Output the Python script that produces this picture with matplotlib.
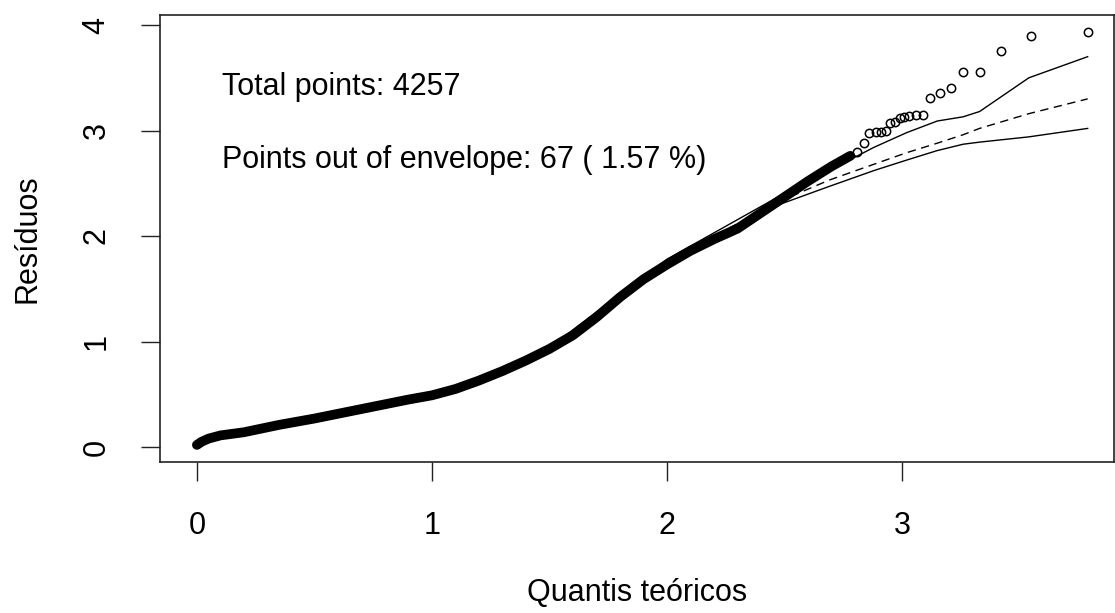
import numpy as np
import matplotlib
matplotlib.use("Agg")
import matplotlib.pyplot as plt

plt.rcParams["font.family"] = ["Liberation Sans", "DejaVu Sans"]

# dense part of the residuals (read along the band of points)
band_x = [0, 0.02, 0.05, 0.1, 0.2, 0.35, 0.5, 0.7, 0.9, 1.0, 1.1, 1.2, 1.3,
          1.4, 1.5, 1.6, 1.7, 1.8, 1.9, 2.0, 2.1, 2.2, 2.3, 2.4, 2.5, 2.6,
          2.7, 2.78]
band_y = [0.02, 0.05, 0.08, 0.11, 0.14, 0.21, 0.27, 0.36, 0.45, 0.49, 0.55,
          0.63, 0.72, 0.82, 0.93, 1.06, 1.23, 1.42, 1.59, 1.73, 1.86, 1.97,
          2.07, 2.22, 2.37, 2.52, 2.66, 2.76]

# individual points in the upper tail
tail_x = [2.81, 2.84, 2.86, 2.89, 2.91, 2.93, 2.95, 2.97, 2.99, 3.01, 3.03,
          3.06, 3.09, 3.12, 3.16, 3.21, 3.26, 3.33, 3.42, 3.55, 3.79]
tail_y = [2.80, 2.88, 2.98, 2.99, 2.99, 3.00, 3.07, 3.08, 3.12, 3.13, 3.14,
          3.15, 3.15, 3.31, 3.36, 3.40, 3.55, 3.55, 3.75, 3.90, 3.93]

# simulated envelope
env_x = [0, 0.5, 1.0, 1.25, 1.5, 1.8, 2.0, 2.2, 2.48, 2.69, 2.88, 3.02, 3.15,
         3.26, 3.33, 3.54, 3.79]
env_upper = [0.04, 0.28, 0.50, 0.68, 0.94, 1.45, 1.78, 2.03, 2.38, 2.62,
             2.84, 2.98, 3.09, 3.13, 3.18, 3.50, 3.70]
env_mean = [0.04, 0.27, 0.49, 0.67, 0.93, 1.42, 1.75, 2.00, 2.33, 2.53, 2.68,
            2.79, 2.88, 2.96, 3.02, 3.16, 3.30]
env_lower = [0.03, 0.26, 0.48, 0.66, 0.92, 1.40, 1.71, 1.95, 2.30, 2.47,
             2.62, 2.72, 2.81, 2.87, 2.89, 2.94, 3.02]

n_total = 4257
n_out = 67

fs = 22
fig = plt.figure(figsize=(11.15, 6.13), dpi=100)
ax = fig.add_axes([160 / 1115, 151 / 613, 954 / 1115, 447 / 613])

ax.plot(band_x, band_y, color="black", lw=7, solid_capstyle="round")
ax.plot(tail_x, tail_y, "o", mfc="none", mec="black", ms=6, mew=1.1)
ax.plot(env_x, env_upper, color="black", lw=1)
ax.plot(env_x, env_lower, color="black", lw=1)
ax.plot(env_x, env_mean, color="black", lw=1, dashes=(6, 4))

ax.set_xlim(-0.157, 3.902)
ax.set_ylim(-0.142, 4.095)
ax.set_xticks([0, 1, 2, 3])
ax.set_yticks([0, 1, 2, 3, 4])
ax.tick_params(length=14, width=1, pad=21, labelsize=fs, color="#222222")
ax.tick_params(axis="y", labelrotation=90)
for lab in ax.get_yticklabels():
    lab.set_va("center")
for sp in ax.spines.values():
    sp.set_linewidth(1.2)
    sp.set_color("#222222")

ax.set_xlabel("Quantis teóricos", fontsize=fs)
ax.set_ylabel("Resíduos", fontsize=fs)
ax.xaxis.set_label_coords(0.5, -0.293)
ax.xaxis.label.set_va("center")
ax.yaxis.set_label_coords(-0.139, 0.5)
ax.yaxis.label.set_va("center")

ax.text(0.106, 3.41, f"Total points: {n_total}", fontsize=fs, va="center")
ax.text(0.106, 2.72, f"Points out of envelope: {n_out} ( {100 * n_out / n_total:.2f} %)",
        fontsize=fs, va="center")

fig.savefig("out.png", dpi=100)
